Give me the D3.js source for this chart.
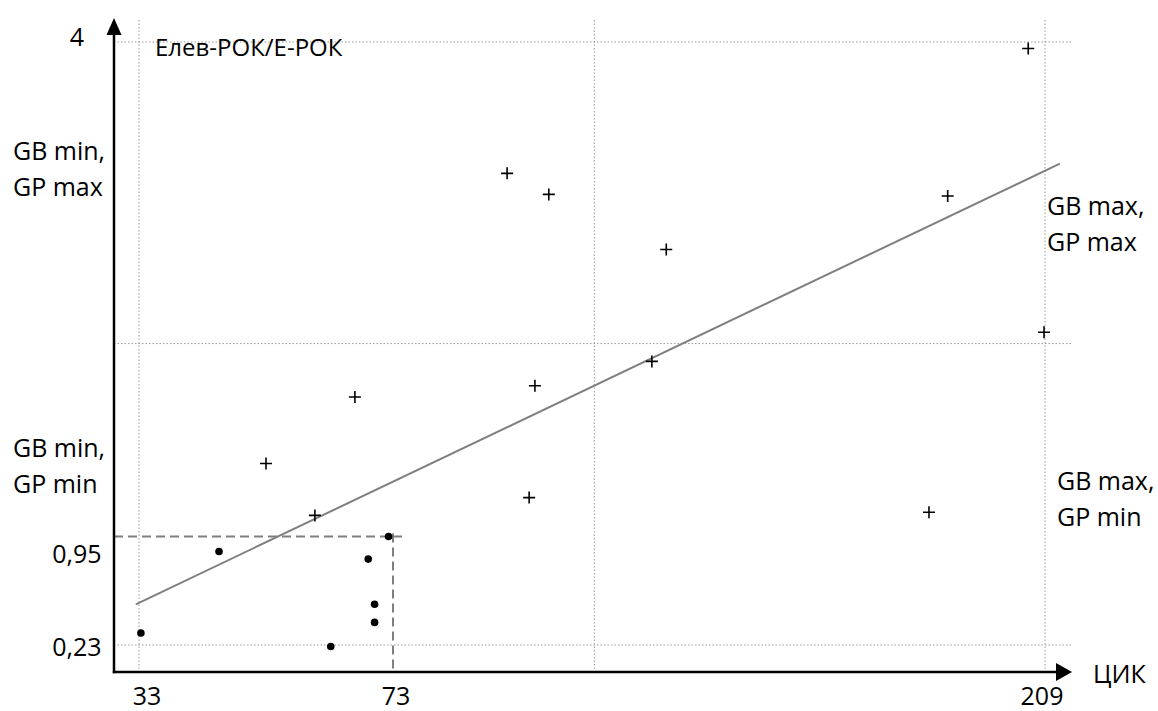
<!doctype html>
<html lang="ru">
<head>
 <meta charset="utf-8">
 <script src="https://cdn.jsdelivr.net/npm/d3@7"></script>
 <title>Елев-РОК/Е-РОК</title>
 <style>
  body { margin: 0; background: #fff; }
  text { font-family: "Open Sans", sans-serif; fill: #000; }
  .grid { stroke: #9a9a9a; stroke-width: 1; stroke-dasharray: 1.5,2; }
  .axis { stroke: #000; stroke-width: 2.5; }
  .thr { stroke: #7f7f7f; stroke-width: 2; stroke-dasharray: 9,5; fill: none; }
  .trend { stroke: #7f7f7f; stroke-width: 2; fill: none; }
  .plus { stroke: #000; stroke-width: 1.6; fill: none; }
 </style>
</head>
<body>
<div id="chart"></div>

<script>
    // axis ticks
    var xTicks = [33, 73, 209];
    var yTicks = [0.23, 0.95, 4];
    var xTickLabels = ["33", "73", "209"];
    var yTickLabels = ["0,23", "0,95", "4"];

    // quadrant borders
    var xGrid = [33, 115, 209];
    var yGrid = [0.23, 2.14, 4];

    // threshold box
    var xThr = 73;
    var yThr = 0.95;

    // points above the threshold (+)
    var plusX = [205.5, 188.7, 96.8, 105.5, 130.0, 127.0, 102.6, 208.8, 67.0, 53.0, 60.7, 101.4, 184.8];
    var plusY = [3.96, 3.05, 3.19, 3.06, 2.72, 2.03, 1.88, 2.21, 1.81, 1.40, 1.08, 1.19, 1.10];

    // points inside the threshold box (•)
    var dotX = [33.3, 45.6, 72.3, 69.1, 70.1, 70.1, 63.2];
    var dotY = [0.31, 0.85, 0.95, 0.80, 0.50, 0.38, 0.22];

    // trend line ends
    var trendX = [32.5, 212.1];
    var trendY = [0.50, 3.25];

    var title = "Елев-РОК/Е-РОК";
    var xName = "ЦИК";
    var quadrants = [
        ["GB min,", "GP max"],
        ["GB min,", "GP min"],
        ["GB max,", "GP max"],
        ["GB max,", "GP min"]
    ];

    var W = 1158, H = 711;
    var ox = 114, oy = 672;          // axis origin
    var yTop = 18, xRight = 1072;    // arrow tips

    var x = d3.scaleLinear().domain(xTicks).range([139, 393, 1045]);
    var y = d3.scaleLinear().domain(yTicks).range([645, 536.5, 42]);

    var svg = d3.select("#chart").append("svg")
        .attr("width", W)
        .attr("height", H);

    // dotted grid
    svg.selectAll(".vgrid").data(xGrid).enter().append("line")
        .attr("class", "grid")
        .attr("x1", function (d) { return x(d); })
        .attr("x2", function (d) { return x(d); })
        .attr("y1", yTop + 2)
        .attr("y2", oy);
    svg.selectAll(".hgrid").data(yGrid).enter().append("line")
        .attr("class", "grid")
        .attr("x1", ox)
        .attr("x2", xRight)
        .attr("y1", function (d) { return y(d); })
        .attr("y2", function (d) { return y(d); });

    // dashed threshold lines
    svg.append("path")
        .attr("class", "thr")
        .attr("d", "M" + ox + "," + y(yThr) + "H" + (x(xThr) + 9));
    svg.append("path")
        .attr("class", "thr")
        .attr("d", "M" + x(xThr) + "," + (y(yThr) - 3) + "V" + oy);

    // trend line
    var line = d3.line()
        .x(function (d) { return x(d[0]); })
        .y(function (d) { return y(d[1]); });
    svg.append("path")
        .attr("class", "trend")
        .attr("d", line(d3.zip(trendX, trendY)));

    // axes with arrows
    svg.append("line").attr("class", "axis")
        .attr("x1", ox).attr("y1", oy + 1.2).attr("x2", ox).attr("y2", yTop + 12);
    svg.append("line").attr("class", "axis")
        .attr("x1", ox - 1.2).attr("y1", oy).attr("x2", xRight - 10).attr("y2", oy);
    svg.append("path")
        .attr("d", "M" + ox + "," + yTop + "L" + (ox + 7.5) + "," + (yTop + 17) + "L" + (ox - 7.5) + "," + (yTop + 17) + "Z");
    svg.append("path")
        .attr("d", "M" + xRight + "," + oy + "L" + (xRight - 16) + "," + (oy - 9) + "L" + (xRight - 16) + "," + (oy + 9) + "Z");

    // markers
    svg.selectAll(".plus").data(d3.zip(plusX, plusY)).enter().append("path")
        .attr("class", "plus")
        .attr("transform", function (d) { return "translate(" + x(d[0]) + "," + y(d[1]) + ")"; })
        .attr("d", "M-6,0H6M0,-6V6");
    svg.selectAll(".dot").data(d3.zip(dotX, dotY)).enter().append("circle")
        .attr("class", "dot")
        .attr("cx", function (d) { return x(d[0]); })
        .attr("cy", function (d) { return y(d[1]); })
        .attr("r", 3.8)
        .attr("fill", "#000");

    // tick labels (placed like the hand made labels of the original)
    var xNudge = [8, 3, -3];
    svg.selectAll(".xt").data(xTicks).enter().append("text")
        .attr("x", function (d, i) { return x(d) + xNudge[i]; })
        .attr("y", 705)
        .attr("text-anchor", "middle")
        .style("font-size", "25px")
        .text(function (d, i) { return xTickLabels[i]; });
    var yNudge = [11, 26, 4];
    svg.selectAll(".yt").data(yTicks).enter().append("text")
        .attr("x", 77)
        .attr("y", function (d, i) { return y(d) + yNudge[i]; })
        .attr("text-anchor", "middle")
        .style("font-size", "25px")
        .text(function (d, i) { return yTickLabels[i]; });

    svg.append("text")
        .attr("x", 155).attr("y", 56)
        .style("font-size", "24px")
        .text(title);
    svg.append("text")
        .attr("x", 1093).attr("y", 683)
        .style("font-size", "25px")
        .text(xName);

    // quadrant captions
    var qpos = [[13, 160], [13, 457], [1047, 215], [1057, 490]];
    quadrants.forEach(function (q, i) {
        var t = svg.append("text")
            .attr("x", qpos[i][0]).attr("y", qpos[i][1])
            .style("font-size", "25px");
        t.append("tspan").text(q[0]);
        t.append("tspan").attr("x", qpos[i][0]).attr("dy", 36).text(q[1]);
    });
</script>

</body>
</html>
